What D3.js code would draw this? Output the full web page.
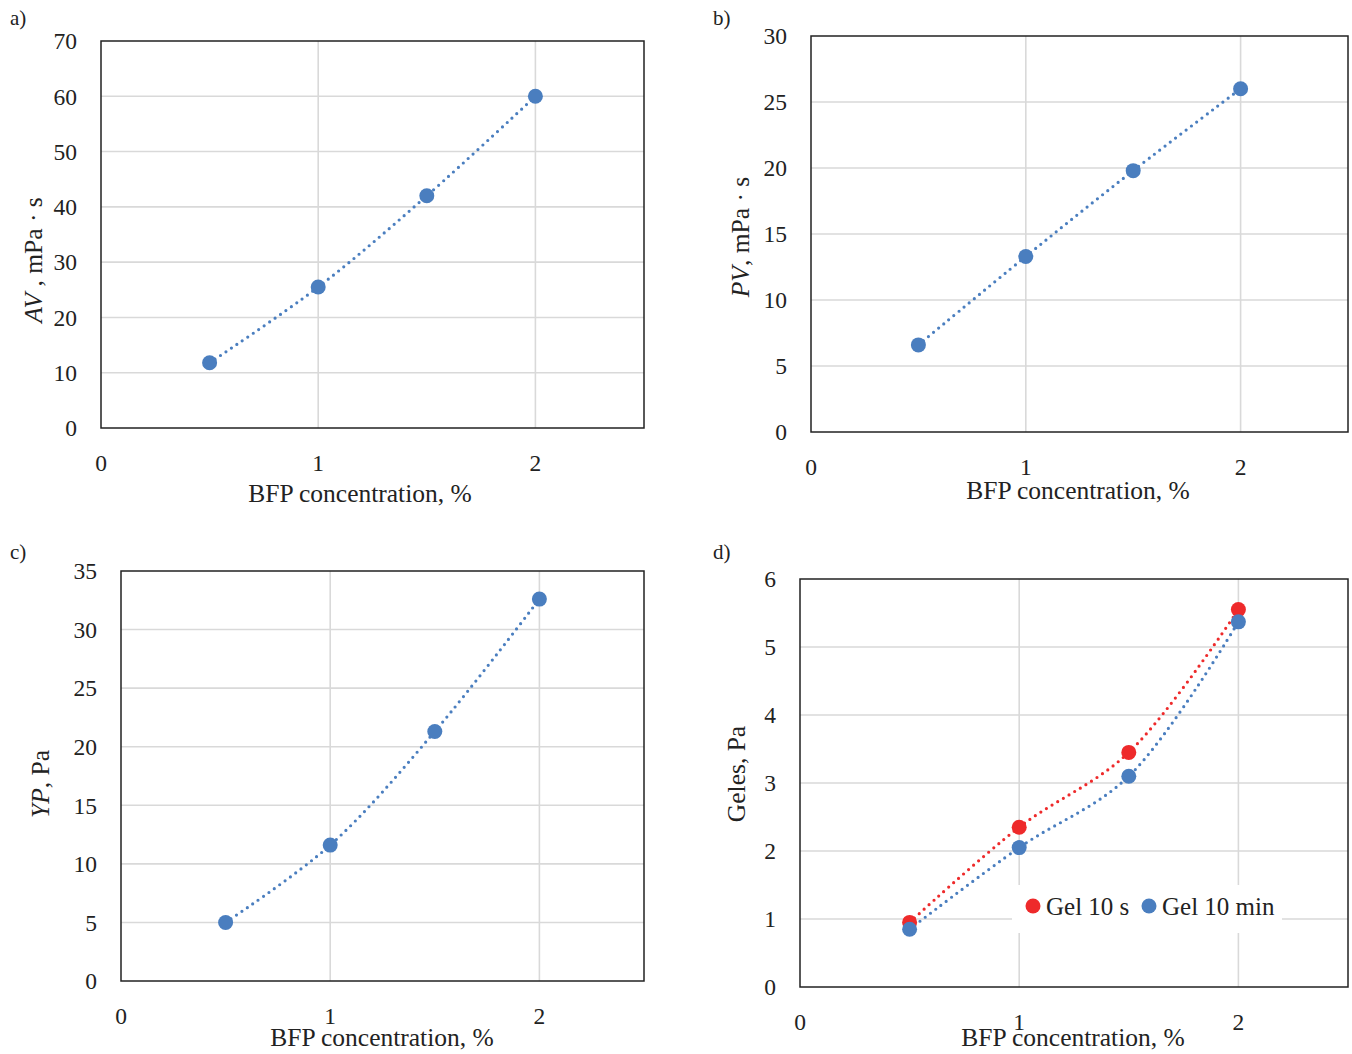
<!DOCTYPE html>
<html>
<head>
<meta charset="utf-8">
<script src="https://cdn.jsdelivr.net/npm/d3@7"></script>
<style>
  body { margin: 0; background: #fff; }
  svg { font-family: "Liberation Serif", "DejaVu Serif", serif; }
</style>
</head>
<body>
<svg id="chart" width="1352" height="1054"></svg>
<script>
"use strict";

// BFP concentration, %
var concentration = [0.5, 1, 1.5, 2];
var xTicks = [0, 1, 2];

// a) apparent viscosity, mPa·s
var avValues = [11.8, 25.5, 42, 60];
var avTicks = [0, 10, 20, 30, 40, 50, 60, 70];

// b) plastic viscosity, mPa·s
var pvValues = [6.6, 13.3, 19.8, 26];
var pvTicks = [0, 5, 10, 15, 20, 25, 30];

// c) yield point, Pa
var ypValues = [5, 11.6, 21.3, 32.6];
var ypTicks = [0, 5, 10, 15, 20, 25, 30, 35];

// d) gel strength, Pa
var gel10s = [0.95, 2.35, 3.45, 5.55];
var gel10min = [0.85, 2.05, 3.1, 5.37];
var gelTicks = [0, 1, 2, 3, 4, 5, 6];
var gelLegend = ["Gel 10 s", "Gel 10 min"];

var BLUE = "#4a7ebf";
var RED = "#ee2a2b";

var svg = d3.select("#chart");

// Draws one panel. box = plot area in pixels, series = [{values, color}]
function drawPanel(cfg) {
    var b = cfg.box;
    var x = d3.scaleLinear().domain([0, 2.5]).range([b.x0, b.x1]);
    var y = d3.scaleLinear().domain([0, d3.max(cfg.yTicks)]).range([b.y1, b.y0]);
    var g = svg.append("g");

    // gridlines
    g.selectAll("line.hgrid").data(cfg.yTicks.slice(1, -1)).enter().append("line")
        .attr("x1", b.x0).attr("x2", b.x1)
        .attr("y1", function(d) { return y(d); }).attr("y2", function(d) { return y(d); })
        .attr("stroke", "#d9d9d9").attr("stroke-width", 1.6);
    g.selectAll("line.vgrid").data(xTicks.slice(1)).enter().append("line")
        .attr("y1", b.y0).attr("y2", b.y1)
        .attr("x1", function(d) { return x(d); }).attr("x2", function(d) { return x(d); })
        .attr("stroke", "#d9d9d9").attr("stroke-width", 1.6);

    // frame
    g.append("rect")
        .attr("x", b.x0).attr("y", b.y0)
        .attr("width", b.x1 - b.x0).attr("height", b.y1 - b.y0)
        .attr("fill", "none").attr("stroke", "#222").attr("stroke-width", 1.5);

    // tick labels
    g.selectAll("text.ytick").data(cfg.yTicks).enter().append("text")
        .attr("x", b.x0 - 24).attr("y", function(d) { return y(d); })
        .attr("dy", "0.35em").attr("text-anchor", "end")
        .attr("font-size", 23.5).attr("fill", "#222")
        .text(function(d) { return d; });
    g.selectAll("text.xtick").data(xTicks).enter().append("text")
        .attr("x", function(d) { return x(d); }).attr("y", b.y1 + 43)
        .attr("text-anchor", "middle")
        .attr("font-size", 23.5).attr("fill", "#222")
        .text(function(d) { return d; });

    // axis titles
    g.append("text")
        .attr("x", cfg.xTitle[0]).attr("y", cfg.xTitle[1])
        .attr("text-anchor", "middle").attr("font-size", 25.5).attr("fill", "#222")
        .text("BFP concentration, %");
    var yt = g.append("text")
        .attr("transform", "translate(" + cfg.yTitle[0] + "," + cfg.yTitle[1] + ") rotate(-90)")
        .attr("text-anchor", "middle").attr("font-size", 25.5).attr("fill", "#222");
    cfg.yLabel.forEach(function(part) {
        yt.append("tspan").attr("font-style", part.italic ? "italic" : null).text(part.t);
    });

    // panel letter
    g.append("text")
        .attr("x", cfg.letter[0]).attr("y", cfg.letter[1])
        .attr("font-size", 21).attr("fill", "#222")
        .text(cfg.letter[2]);

    var line = d3.line()
        .x(function(d) { return x(d[0]); })
        .y(function(d) { return y(d[1]); })
        .curve(d3.curveCatmullRom.alpha(0.5));

    cfg.series.forEach(function(s) {
        var pts = d3.zip(concentration, s.values);
        g.append("path").attr("d", line(pts))
            .attr("fill", "none").attr("stroke", s.color)
            .attr("stroke-width", 3.2).attr("stroke-linecap", "round")
            .attr("stroke-dasharray", "0 6.6");
    });
    cfg.series.forEach(function(s) {
        var pts = d3.zip(concentration, s.values);
        g.selectAll(null).data(pts).enter().append("circle")
            .attr("cx", function(d) { return x(d[0]); })
            .attr("cy", function(d) { return y(d[1]); })
            .attr("r", 7.5).attr("fill", s.color);
    });

    return { g: g, x: x, y: y };
}

drawPanel({
    box: { x0: 101, x1: 644, y0: 41, y1: 428 },
    yTicks: avTicks,
    series: [{ values: avValues, color: BLUE }],
    xTitle: [360, 502], yTitle: [42, 260],
    yLabel: [{ t: "AV", italic: true }, { t: " , mPa · s" }],
    letter: [10, 25, "a)"]
});

drawPanel({
    box: { x0: 811, x1: 1348, y0: 36, y1: 432 },
    yTicks: pvTicks,
    series: [{ values: pvValues, color: BLUE }],
    xTitle: [1078, 499], yTitle: [749, 237],
    yLabel: [{ t: "PV", italic: true }, { t: ", mPa · s" }],
    letter: [713, 25, "b)"]
});

drawPanel({
    box: { x0: 121, x1: 644, y0: 571, y1: 981 },
    yTicks: ypTicks,
    series: [{ values: ypValues, color: BLUE }],
    xTitle: [382, 1046], yTitle: [49, 784],
    yLabel: [{ t: "YP", italic: true }, { t: ", Pa" }],
    letter: [10, 559, "c)"]
});

var pd = drawPanel({
    box: { x0: 800, x1: 1348, y0: 579, y1: 987 },
    yTicks: gelTicks,
    series: [{ values: gel10s, color: RED }, { values: gel10min, color: BLUE }],
    xTitle: [1073, 1046], yTitle: [745, 774],
    yLabel: [{ t: "Geles, Pa" }],
    letter: [713, 559, "d)"]
});

// legend of panel d, on a white box that hides the gridlines
var legend = pd.g.append("g");
legend.append("rect")
    .attr("x", 1012).attr("y", 885).attr("width", 270).attr("height", 48)
    .attr("fill", "#fff");
var legendColors = [RED, BLUE];
var legendX = [1033, 1149];
gelLegend.forEach(function(name, i) {
    legend.append("circle").attr("cx", legendX[i]).attr("cy", 906).attr("r", 7.5)
        .attr("fill", legendColors[i]);
    legend.append("text").attr("x", legendX[i] + 13).attr("y", 906)
        .attr("dy", "0.35em").attr("font-size", 25).attr("fill", "#222")
        .text(name);
});
</script>
</body>
</html>
